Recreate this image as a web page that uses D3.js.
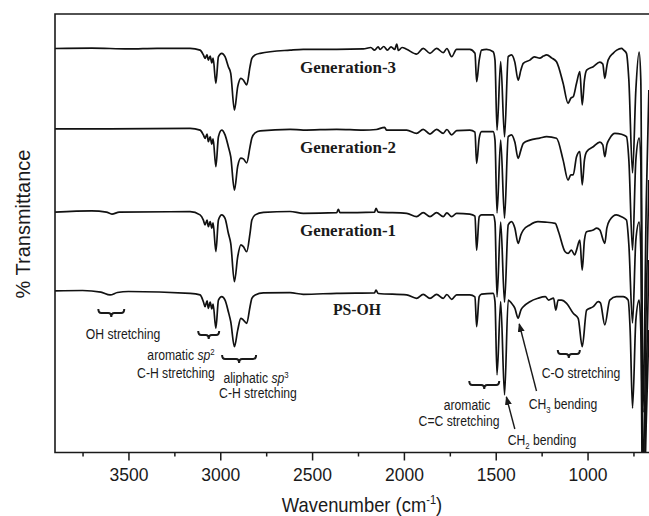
<!DOCTYPE html>
<html>
<head>
<meta charset="utf-8">
<script src="https://cdn.jsdelivr.net/npm/d3@7"></script>
<style>
  body { margin: 0; background: #fff; }
  svg { display: block; }
</style>
</head>
<body>
<div class="chart"></div>
<script>
// series: [wavenumber (cm-1), stacked % transmittance]
const generation3 = [
  [3900, 101], [3700, 101.1], [3500, 100.9], [3344, 101.05], [3164, 101.05], [3110, 100.6],
  [3092, 99.4], [3083, 98.55], [3072, 99.4], [3065, 98.1], [3055, 99.1], [3046, 97.4], [3039, 98.6],
  [3024, 92.3], [3010, 98.95], [2992, 99.8], [2974, 98.95], [2956, 96.45], [2943, 94.8], [2923, 85.6],
  [2905, 91.45], [2888, 93.55], [2874, 93.1], [2856, 91.9], [2838, 96.45], [2828, 98.55], [2810, 99.4],
  [2783, 99.8], [2620, 100.6], [2548, 100.8], [2366, 100.8], [2221, 100.9], [2180, 101.25], [2160, 100.6],
  [2140, 101.4], [2130, 100.75], [2110, 101.5], [2090, 100.6], [2070, 101.4], [2050, 100.75], [2039, 102.1],
  [2030, 100.5], [2010, 101.25], [1985, 100.8], [1931, 99.6], [1895, 101.05], [1858, 99.8], [1822, 101.05],
  [1786, 99.95], [1766, 101], [1740, 98.95], [1713, 100.8], [1641, 100.8], [1613, 99.8], [1604, 92.7],
  [1590, 98.1], [1577, 100.6], [1550, 100.8], [1514, 100.2], [1504, 98.1], [1493, 80.6], [1473, 97.7],
  [1452, 78.9], [1432, 98.95], [1414, 99.4], [1396, 97.6], [1378, 93.1], [1363, 95.6], [1350, 97.3],
  [1314, 98.1], [1290, 98.9], [1260, 98.6], [1240, 99.1], [1223, 99.4], [1194, 98.6], [1169, 97.7],
  [1133, 92.3], [1106, 87.3], [1091, 88.6], [1078, 88.95], [1060, 92.3], [1042, 95.2], [1029, 86.9],
  [1017, 93.1], [1005, 95.6], [969, 96.45], [933, 97.6], [917, 97.1], [906, 93.55], [895, 96.6],
  [888, 98.1], [861, 99.8], [841, 100.6], [815, 101.05], [803, 100.6], [788, 99.8], [775, 93.1],
  [755, 69.9], [737, 90.6], [719, 100.1], [710, 93.1], [698, 10], [680, 63.1], [666, 90.6]
]
const generation2 = [
  [3900, 80.9], [3600, 80.9], [3164, 81.05], [3110, 80.6], [3092, 79.4], [3083, 78.55], [3072, 79.6],
  [3065, 77.7], [3055, 78.9], [3046, 77.1], [3039, 78.4], [3024, 71.45], [3010, 78.95], [2992, 80.6],
  [2974, 79.4], [2956, 76.45], [2943, 73.95], [2923, 65.6], [2905, 71.6], [2888, 73.6], [2874, 73.4],
  [2856, 72.4], [2838, 76.4], [2828, 78.6], [2810, 79.9], [2783, 80.4], [2620, 80.8], [2548, 80.6],
  [2366, 80.8], [2221, 80.6], [2150, 80.75], [2105, 81.3], [2095, 80.6], [1985, 80.6], [1931, 79.8],
  [1895, 80.8], [1858, 79.6], [1822, 80.8], [1786, 79.8], [1766, 80.75], [1740, 79.4], [1713, 80.45],
  [1641, 80.6], [1613, 80.1], [1604, 72.3], [1590, 78.6], [1577, 80.2], [1514, 80.2], [1504, 78.1],
  [1493, 59.9], [1473, 78.1], [1452, 58.6], [1432, 78.95], [1414, 79.4], [1396, 77.6], [1378, 73.55],
  [1363, 75.6], [1350, 77.3], [1314, 78.1], [1260, 78.6], [1223, 78.95], [1169, 78.55], [1133, 73.1],
  [1106, 68.1], [1091, 69.4], [1078, 69.4], [1060, 73.95], [1042, 75.2], [1029, 66.9], [1017, 73.1],
  [1005, 75.2], [969, 76.45], [933, 77.6], [917, 76.9], [906, 73.95], [895, 76.9], [879, 78.55],
  [851, 79.8], [815, 79.55], [788, 78.95], [775, 73.1], [755, 50.6], [737, 73.1], [719, 78.6],
  [710, 73.1], [698, -6.9], [680, 38.1], [666, 68.1]
]
const generation1 = [
  [3900, 60.1], [3700, 60.4], [3620, 60.1], [3590, 59.6], [3550, 60.1], [3164, 60.2], [3110, 59.4],
  [3092, 58.1], [3083, 56.9], [3072, 58.1], [3065, 56.45], [3055, 57.7], [3046, 56.1], [3039, 57.4],
  [3024, 50.2], [3010, 58.1], [2992, 59.4], [2974, 58.55], [2956, 54.8], [2943, 52.3], [2923, 42.7],
  [2905, 48.95], [2888, 51.9], [2874, 51.45], [2856, 50.2], [2838, 54.8], [2828, 58.1], [2810, 59.4],
  [2765, 60.05], [2620, 60.25], [2548, 59.8], [2366, 59.95], [2357, 60.8], [2348, 59.95], [2160, 60.1],
  [2152, 61.05], [2140, 60.1], [1985, 59.8], [1931, 58.95], [1895, 59.95], [1858, 58.95], [1822, 59.95],
  [1786, 58.95], [1766, 59.9], [1740, 58.95], [1713, 59.8], [1641, 59.6], [1613, 59.1], [1604, 50.6],
  [1590, 58.95], [1577, 59.4], [1514, 59.4], [1504, 57.6], [1493, 38.9], [1473, 57.6], [1452, 37.6],
  [1432, 56.9], [1414, 57.7], [1396, 56.1], [1378, 52.3], [1363, 54.4], [1350, 55.6], [1314, 56.9],
  [1270, 57.7], [1230, 57.6], [1176, 57.3], [1158, 55.2], [1122, 50.2], [1106, 49.8], [1088, 50.6],
  [1070, 49.4], [1060, 50.6], [1042, 53.1], [1029, 45.6], [1017, 53.1], [1005, 55.2], [969, 55.6],
  [950, 56.1], [933, 55.6], [906, 52.3], [895, 56.1], [879, 58.1], [843, 59.4], [815, 58.95],
  [788, 58.1], [775, 51.9], [755, 32.4], [737, 53.1], [719, 57.6], [710, 50.6], [698, -16.9],
  [680, 18.1], [666, 48.1]
]
const psOH = [
  [3900, 40.4], [3750, 40.5], [3650, 40.1], [3600, 39.4], [3560, 40], [3500, 40.25], [3164, 39.8],
  [3110, 39.4], [3092, 37.7], [3083, 36.45], [3072, 37.9], [3065, 36.05], [3055, 37.6], [3046, 35.9],
  [3039, 37.1], [3024, 31.05], [3010, 38.1], [2992, 38.95], [2974, 38.1], [2956, 35.2], [2943, 32.7],
  [2923, 26.45], [2905, 30.6], [2888, 33.55], [2874, 33.1], [2856, 32.3], [2838, 36.45], [2828, 38.55],
  [2810, 39.4], [2765, 39.9], [2620, 39.95], [2548, 39.55], [2366, 39.8], [2160, 39.9], [2152, 40.6],
  [2140, 39.75], [1985, 39.4], [1931, 38.55], [1895, 39.55], [1858, 38.55], [1822, 39.55], [1786, 38.55],
  [1766, 39.5], [1740, 38.3], [1713, 39.4], [1641, 39.4], [1613, 38.9], [1604, 31.45], [1590, 38.95],
  [1577, 39.6], [1514, 39.8], [1504, 37.7], [1493, 19.4], [1473, 37.7], [1452, 14.4], [1432, 38.1],
  [1414, 37.3], [1396, 36.1], [1378, 33.6], [1363, 35.6], [1350, 36.45], [1314, 37.7], [1270, 38.55],
  [1230, 38.95], [1212, 38.1], [1185, 38.6], [1173, 35.6], [1160, 38.1], [1142, 38.1], [1114, 37.3],
  [1078, 34.8], [1051, 33.55], [1029, 26.45], [1005, 35.6], [969, 36.45], [942, 37.7], [930, 37.4],
  [906, 31.9], [879, 38.1], [843, 38.95], [806, 38.95], [779, 38.1], [768, 30.6], [755, 11.1],
  [737, 33.1], [719, 38.1], [710, 30.6], [698, -21.9], [680, 8.1], [666, 30.6]
]
const seriesNames = ['Generation-3', 'Generation-2', 'Generation-1', 'PS-OH']
const seriesValues = [generation3, generation2, generation1, psOH]
const majorTicks = [3500, 3000, 2500, 2000, 1500, 1000]
const minorTicks = [3750, 3250, 2750, 2250, 1750, 1250, 750]

class Spectra {

    constructor(names, values, options) {
        this.names = names
        this.values = values
        this.handleOptions(options)
    }

    handleOptions(options) {
        this.fullWidth = options.width || 649
        this.fullHeight = options.height || 516
        this.left = 55
        this.top = 14
        this.bottom = 452.5
        this.right = 661
        this.ink = '#1a1a1a'
        this.sans = '"Liberation Sans", Arial, sans-serif'
        this.serif = '"Liberation Serif", "Times New Roman", serif'
    }

    render() {
        this.svg = this.createCanvas()
        this.prepareScales()
        this.createSpectra()
        this.createLabels()
        this.createFrame()
        this.createAxis()
        this.createAnnotations()
    }

    createCanvas() {
        let svg = d3.select('.chart')
            .append('svg')
            .attr('width', this.fullWidth)
            .attr('height', this.fullHeight)
        svg.append('rect')
            .attr('width', this.fullWidth)
            .attr('height', this.fullHeight)
            .style('fill', '#fff')
        let defs = svg.append('defs')
        defs.append('clipPath').attr('id', 'plot-clip')
            .append('rect')
            .attr('x', this.left).attr('y', this.top)
            .attr('width', this.right - this.left)
            .attr('height', this.bottom - this.top)
        defs.append('marker')
            .attr('id', 'arrow')
            .attr('markerUnits', 'userSpaceOnUse')
            .attr('markerWidth', 9).attr('markerHeight', 7)
            .attr('refX', 8).attr('refY', 3.5)
            .attr('orient', 'auto')
            .append('path')
            .attr('d', 'M0,0 L9,3.5 L0,7 z')
            .style('fill', this.ink)
        return svg
    }

    prepareScales() {
        this.xScale = d3.scaleLinear()
            .domain([3900, 600])
            .range([this.left, this.right])
        this.yScale = d3.scaleLinear()
            .domain([0, 110])
            .range([this.bottom, 12.5])
    }

    createSpectra() {
        let line = d3.line()
            .x(d => this.xScale(d[0]))
            .y(d => this.yScale(d[1]))
            .curve(d3.curveMonotoneX)
        this.svg.append('g')
            .attr('clip-path', 'url(#plot-clip)')
            .selectAll('path')
            .data(this.values)
            .enter().append('path')
            .attr('class', 'spectrum')
            .attr('d', line)
            .style('fill', 'none')
            .style('stroke', '#111')
            .style('stroke-width', 1.7)
            .style('stroke-linejoin', 'round')
    }

    createLabels() {
        // series names sit just under each trace's flat start
        this.svg.append('g')
            .selectAll('text')
            .data(this.names)
            .enter().append('text')
            .attr('transform', (d, i) => {
                let x = (d === 'PS-OH') ? 357 : 348
                let y = this.yScale(this.values[i][0][1]) + 24
                return `translate(${x},${y}) scale(${d === 'PS-OH' ? 0.9 : 0.97},1)`
            })
            .attr('text-anchor', 'middle')
            .style('font-family', this.serif)
            .style('font-weight', 'bold')
            .style('font-size', '17.5px')
            .style('fill', this.ink)
            .text(d => d)
    }

    createFrame() {
        let g = this.svg.append('g')
            .style('stroke', this.ink)
            .style('stroke-width', 1.6)
            .style('fill', 'none')
        g.append('path')
            .attr('d', `M${this.right},${this.top} H${this.left} V${this.bottom} H${this.right}`)
    }

    createAxis() {
        let major = d3.axisBottom(this.xScale)
            .tickValues(majorTicks)
            .tickSize(8)
            .tickPadding(8)
            .tickFormat(d3.format('d'))
        let minor = d3.axisBottom(this.xScale)
            .tickValues(minorTicks)
            .tickSize(4)
            .tickFormat('')
        let gMajor = this.svg.append('g')
            .attr('transform', `translate(0,${this.bottom})`)
            .call(major)
        let gMinor = this.svg.append('g')
            .attr('transform', `translate(0,${this.bottom})`)
            .call(minor)
        this.svg.selectAll('.domain').remove()
        this.svg.selectAll('.tick line').style('stroke', this.ink).style('stroke-width', 1.5)
        gMajor.selectAll('.tick text')
            .style('font-family', this.sans)
            .style('font-size', '17.5px')
            .style('fill', this.ink)

        let title = this.svg.append('text')
            .attr('transform', 'translate(362,512) scale(0.92,1)')
            .attr('text-anchor', 'middle')
            .style('font-family', this.sans)
            .style('font-size', '20px')
            .style('fill', this.ink)
        title.append('tspan').text('Wavenumber (cm')
        title.append('tspan').attr('dy', -8).style('font-size', '12px').text('-1')
        title.append('tspan').attr('dy', 8).text(')')

        this.svg.append('text')
            .attr('transform', 'translate(30,224) rotate(-90)')
            .attr('text-anchor', 'middle')
            .style('font-family', this.sans)
            .style('font-size', '20px')
            .style('fill', this.ink)
            .text('% Transmittance')
    }

    note(x, y, parts) {
        let t = this.svg.append('text')
            .attr('transform', `translate(${x},${y}) scale(0.87,1)`)
            .attr('text-anchor', 'middle')
            .style('font-family', this.sans)
            .style('font-size', '14px')
            .style('fill', this.ink)
        parts.forEach(p => {
            let s = t.append('tspan').text(p.text)
            if (p.italic) s.style('font-style', 'italic')
            if (p.sup) s.attr('dy', -5).style('font-size', '9px')
            if (p.sub) s.attr('dy', 4).style('font-size', '9px')
            if (p.reset) s.attr('dy', p.reset)
        })
    }

    bracket(w1, w2, y) {
        let x1 = this.xScale(w1), x2 = this.xScale(w2), xc = (x1 + x2) / 2
        this.svg.append('path')
            .attr('d', `M${x1},${y - 4} Q${x1},${y} ${x1 + 3},${y} L${xc - 3},${y} Q${xc},${y} ${xc},${y + 4}` +
                ` Q${xc},${y} ${xc + 3},${y} L${x2 - 3},${y} Q${x2},${y} ${x2},${y - 4}`)
            .style('fill', 'none')
            .style('stroke', this.ink)
            .style('stroke-width', 2)
    }

    arrow(wFrom, yFrom, wTo, yTo) {
        this.svg.append('line')
            .attr('x1', this.xScale(wFrom)).attr('y1', yFrom)
            .attr('x2', this.xScale(wTo)).attr('y2', yTo)
            .attr('marker-end', 'url(#arrow)')
            .style('stroke', this.ink)
            .style('stroke-width', 1.4)
    }

    createAnnotations() {
        this.bracket(3664, 3523, 313)
        this.note(123, 339, [{ text: 'OH stretching' }])

        this.bracket(3120, 3006, 335)
        this.note(181, 360, [{ text: 'aromatic ' }, { text: 'sp', italic: true }, { text: '2', sup: true }])
        this.note(176, 378, [{ text: 'C-H stretching' }])

        this.bracket(2990, 2805, 359)
        this.note(256, 383, [{ text: 'aliphatic ' }, { text: 'sp', italic: true }, { text: '3', sup: true }])
        this.note(258, 398, [{ text: 'C-H stretching' }])

        this.bracket(1644, 1481, 385)
        this.note(467, 410, [{ text: 'aromatic' }])
        this.note(459, 426, [{ text: 'C=C stretching' }])

        this.bracket(1162, 1042, 354)
        this.note(581, 378, [{ text: 'C-O stretching' }])

        this.arrow(1278, 391, 1372, 324)
        this.note(563, 409, [{ text: 'CH' }, { text: '3', sub: true }, { text: ' bending', reset: -4 }])

        this.arrow(1396, 429, 1442, 397)
        this.note(542, 445, [{ text: 'CH' }, { text: '2', sub: true }, { text: ' bending', reset: -4 }])
    }
}

const chart = new Spectra(seriesNames, seriesValues, { width: 649, height: 516 })
chart.render()
</script>
</body>
</html>
